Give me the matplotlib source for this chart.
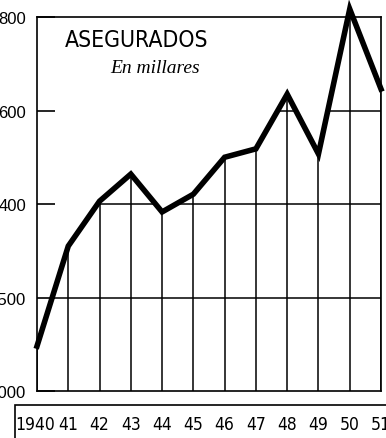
import matplotlib.pyplot as plt
from matplotlib.patches import Polygon, Rectangle
from matplotlib.transforms import ScaledTranslation

# Asegurados (en millares)
years = [1940, 1941, 1942, 1943, 1944, 1945, 1946, 1947, 1948, 1949, 1950, 1951]
asegurados = [2096, 2310, 2406, 2464, 2383, 2421, 2500, 2518, 2635, 2507, 2817, 2646]
year_labels = ["1940", "41", "42", "43", "44", "45", "46", "47", "48", "49", "50", "51"]
y_ticks = [2000, 2200, 2400, 2600, 2800]
y_labels = [",000", ".500", "400", "600", "800"]

cond = dict(family="DejaVu Sans", fontstretch="condensed")

fig = plt.figure(figsize=(3.86, 4.39), dpi=100)
ax = fig.add_axes([37 / 386, 47 / 439, 344 / 386, 374 / 439])
ax.set_xlim(1940, 1951)
ax.set_ylim(2000, 2800)

for s in ax.spines.values():
    s.set_linewidth(1.2)
    s.set_color("black")

# vertical grid from the base up to the curve
ax.vlines(years, 2000, asegurados, colors="black", linewidth=1.1)

# horizontal grid only inside the area under the curve
clip = Polygon(list(zip(years, asegurados)) + [(1951, 2000), (1940, 2000)],
               closed=True, facecolor="none", edgecolor="none")
ax.add_patch(clip)
for yv in y_ticks[1:-1]:
    ln = ax.axhline(yv, color="black", linewidth=1.1)
    ln.set_clip_path(clip)

ax.plot(years, asegurados, color="black", linewidth=4.0,
        solid_joinstyle="miter", clip_on=False, zorder=5)

ax.set_yticks(y_ticks)
ax.set_yticklabels(y_labels, fontsize=12, family=["Liberation Sans", "DejaVu Sans"])
ax.tick_params(axis="y", direction="in", length=13, width=1.2, pad=8)

ax.set_xticks(years)
ax.set_xticklabels(year_labels, fontsize=12.5, **cond)
ax.tick_params(axis="x", length=0, pad=17)
first = ax.get_xticklabels()[0]
first.set_transform(first.get_transform() + ScaledTranslation(-1.5 / 72, 0, fig.dpi_scale_trans))

ax.text(0.29, 0.94, "ASEGURADOS", transform=ax.transAxes, ha="center", va="center",
        fontsize=16.5, **cond)
ax.text(0.343, 0.866, "En millares", transform=ax.transAxes, ha="center", va="center",
        fontsize=14, style="italic", family=["Liberation Serif", "DejaVu Serif"])

# box around the year labels
fig.patches.append(Rectangle((15 / 386, -0.05), 1.0, (439 - 406) / 439 + 0.05,
                             transform=fig.transFigure, fill=False,
                             edgecolor="black", linewidth=1.2))

fig.savefig("out.png", dpi=100)
